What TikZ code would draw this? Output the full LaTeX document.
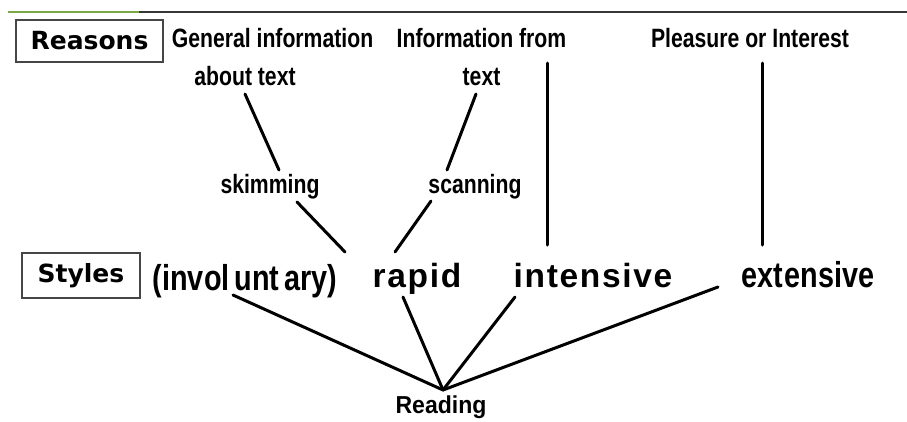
\documentclass[tikz,border=0pt]{standalone}
\usepackage{fontspec}
\setmainfont{Liberation Sans}
\newfontfamily\narrowfont[FakeStretch=0.8]{Liberation Sans}
\newfontfamily\readfont[FakeStretch=0.94]{Liberation Sans}
\newfontfamily\boxfont{DejaVu Sans}
\definecolor{topgreen}{RGB}{122,170,72}
\definecolor{topdark}{RGB}{55,55,55}
\definecolor{boxgray}{RGB}{70,70,70}
\begin{document}
\begin{tikzpicture}[x=1pt,y=-1pt,
  lbl/.style={anchor=base,inner sep=0pt,font=\narrowfont\bfseries\fontsize{26.5}{30}\selectfont},
  sty/.style={anchor=base,inner sep=0pt,font=\narrowfont\bfseries\fontsize{36}{40}\selectfont},
  spaced/.style={anchor=base,inner sep=0pt,font=\bfseries\fontsize{33.5}{38}\selectfont\addfontfeature{LetterSpace=5}},
  tag/.style={draw=boxgray,line width=1.3pt,inner sep=0pt,font=\boxfont\bfseries\fontsize{25}{29}\selectfont},
  link/.style={line width=3pt,line cap=round}]
\useasboundingbox (0,0) rectangle (907,421);
% top rule
\draw[topdark,line width=2.8pt] (139,12) -- (907,12);
\draw[topgreen,line width=2.8pt] (8,12) -- (139,12);
% label boxes
\node[tag,minimum width=147pt,minimum height=42pt] (reasons) at (89.5,41) {Reasons};
\node[tag,minimum width=118pt,minimum height=45pt] (styles) at (81,275.5) {Styles};
% reasons
\node[lbl] (general) at (272.5,47) {General information};
\node[lbl] (about) at (245,85) {about text};
\node[lbl] (infofrom) at (481.5,47) {Information from};
\node[lbl] (text) at (481.5,85) {text};
\node[lbl] (pleasure) at (750,47) {Pleasure or Interest};
\node[lbl] (skim) at (270,193) {skimming};
\node[lbl] (scan) at (475,193) {scanning};
% styles
\node[sty] (invol) at (245,290) {(invol\hspace{5pt}unt\hspace{5pt}ary)};
\node[spaced] (rapid) at (417,287) {rapid};
\node[spaced] (intensive) at (593,287) {intensive};
\node[sty] (extensive) at (808,287) {ext\kern2pt ensive};
\node[anchor=base,inner sep=0pt,font=\readfont\bfseries\fontsize{24.5}{28}\selectfont] (reading) at (441,413) {Reading};
% connector ends
\coordinate (aboutS) at (245,94);
\coordinate (skimN) at (279,170);
\coordinate (skimS) at (297,202);
\coordinate (involNE) at (345,252);
\coordinate (textS) at (476,94);
\coordinate (scanN) at (447,170);
\coordinate (scanS) at (431,201);
\coordinate (rapidN) at (395,252);
\coordinate (infoS) at (547,63);
\coordinate (intN) at (547,245);
\coordinate (pleaS) at (762,63);
\coordinate (extN) at (762,245);
\coordinate (involS) at (233,295);
\coordinate (rapidS) at (403,297);
\coordinate (intS) at (515,297);
\coordinate (extSW) at (718,287);
\coordinate (apex) at (443,390);
% connectors
\draw[link] (aboutS) -- (skimN);
\draw[link] (skimS) -- (involNE);
\draw[link] (textS) -- (scanN);
\draw[link] (scanS) -- (rapidN);
\draw[link] (infoS) -- (intN);
\draw[link] (pleaS) -- (extN);
\draw[link] (involS) -- (apex);
\draw[link] (rapidS) -- (apex);
\draw[link] (intS) -- (apex);
\draw[link] (extSW) -- (apex);
\end{tikzpicture}
\end{document}
